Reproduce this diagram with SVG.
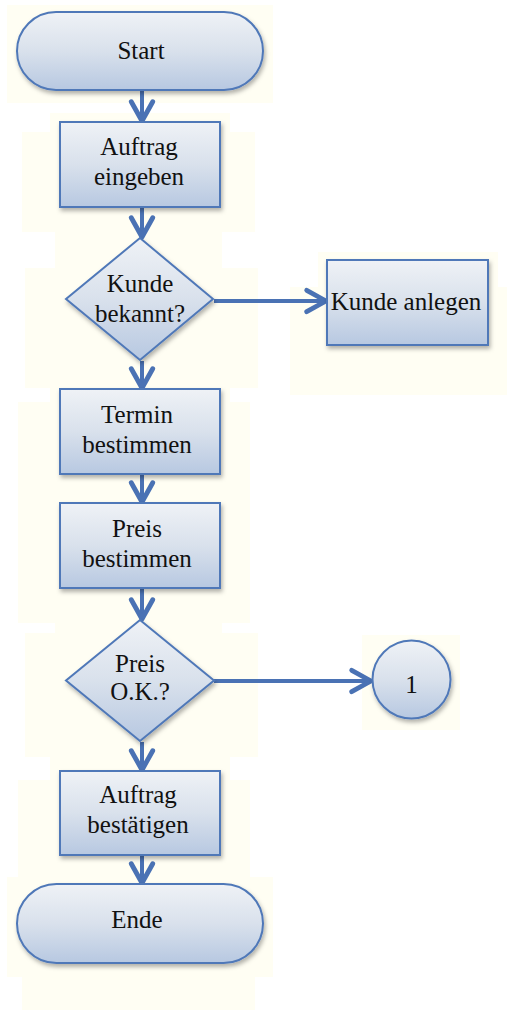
<svg xmlns="http://www.w3.org/2000/svg" width="507" height="1010" viewBox="0 0 507 1010">
  <defs>
    <linearGradient id="fill" x1="0" y1="0" x2="0" y2="1">
      <stop offset="0" stop-color="#eff2f6"/>
      <stop offset="0.5" stop-color="#d9e1ec"/>
      <stop offset="1" stop-color="#b7c8e1"/>
    </linearGradient>
    <filter id="shadow" x="-20%" y="-20%" width="150%" height="150%">
      <feDropShadow dx="1.5" dy="3" stdDeviation="2" flood-color="#000" flood-opacity="0.3"/>
    </filter>
    <marker id="chev" markerUnits="userSpaceOnUse" markerWidth="30" markerHeight="30" viewBox="-22 -14 26 28" refX="0" refY="0" orient="auto">
      <path d="M-18,-10 L0,0 L-18,10" fill="none" stroke="#4a72b4" stroke-width="4.5" stroke-linecap="round" stroke-linejoin="round"/>
    </marker>
  </defs>
  <style>
    .shape { fill: url(#fill); stroke: #4f78b8; stroke-width: 2; filter: url(#shadow); }
    .lbl { font-family: "Liberation Serif", "Times New Roman", serif; font-size: 25px; fill: #111; text-anchor: middle; }
    .conn { fill: none; stroke: #4a72b4; stroke-width: 4; marker-end: url(#chev); }
    .paper { fill: #fffef3; }
  </style>

  <rect width="507" height="1010" fill="#ffffff"/>

  <!-- light paper patches behind the shapes -->
  <g id="paper">
    <rect class="paper" x="7" y="5" width="266" height="98"/>
    <rect class="paper" x="50" y="113" width="180" height="20"/>
    <rect class="paper" x="22" y="132" width="233" height="100"/>
    <rect class="paper" x="55" y="232" width="167" height="36"/>
    <rect class="paper" x="25" y="268" width="233" height="120"/>
    <rect class="paper" x="50" y="388" width="180" height="14"/>
    <rect class="paper" x="18" y="402" width="232" height="221"/>
    <rect class="paper" x="55" y="623" width="167" height="10"/>
    <rect class="paper" x="25" y="633" width="233" height="124"/>
    <rect class="paper" x="50" y="757" width="180" height="23"/>
    <rect class="paper" x="18" y="780" width="232" height="97"/>
    <rect class="paper" x="7" y="877" width="266" height="100"/>
    <rect class="paper" x="22" y="977" width="233" height="33"/>
    <rect class="paper" x="318" y="252" width="180" height="36"/>
    <rect class="paper" x="290" y="287" width="217" height="108"/>
    <rect class="paper" x="362" y="635" width="98" height="95"/>
  </g>

  <g id="connectors">
    <line class="conn" x1="142" y1="91" x2="142" y2="121"/>
    <line class="conn" x1="142" y1="208" x2="142" y2="237"/>
    <line class="conn" x1="214" y1="301" x2="326" y2="301"/>
    <line class="conn" x1="142" y1="361" x2="142" y2="388"/>
    <line class="conn" x1="142" y1="475" x2="142" y2="502"/>
    <line class="conn" x1="142" y1="589" x2="142" y2="619"/>
    <line class="conn" x1="214" y1="681" x2="371" y2="681"/>
    <line class="conn" x1="142" y1="742" x2="142" y2="770"/>
    <line class="conn" x1="142" y1="856" x2="142" y2="883"/>
  </g>

  <g id="start">
    <rect class="shape" x="17" y="12" width="246" height="78" rx="39" ry="39"/>
    <text class="lbl" x="141" y="59">Start</text>
  </g>

  <g id="auftrag-eingeben">
    <rect class="shape" x="60" y="122" width="160" height="85"/>
    <text class="lbl" x="139" y="155">Auftrag</text>
    <text class="lbl" x="139" y="185">eingeben</text>
  </g>

  <g id="kunde-bekannt">
    <polygon class="shape" points="140,238 213,299 140,360 66,299"/>
    <text class="lbl" x="140" y="292">Kunde</text>
    <text class="lbl" x="140" y="322">bekannt?</text>
  </g>

  <g id="kunde-anlegen">
    <rect class="shape" x="327" y="260" width="161" height="85"/>
    <text class="lbl" x="406" y="310">Kunde anlegen</text>
  </g>

  <g id="termin-bestimmen">
    <rect class="shape" x="60" y="389" width="160" height="85"/>
    <text class="lbl" x="137" y="423">Termin</text>
    <text class="lbl" x="137" y="453">bestimmen</text>
  </g>

  <g id="preis-bestimmen">
    <rect class="shape" x="60" y="503" width="160" height="85"/>
    <text class="lbl" x="137" y="537">Preis</text>
    <text class="lbl" x="137" y="567">bestimmen</text>
  </g>

  <g id="preis-ok">
    <polygon class="shape" points="140,620 214,680.5 140,741 66,680.5"/>
    <text class="lbl" x="140" y="672">Preis</text>
    <text class="lbl" x="140" y="700">O.K.?</text>
  </g>

  <g id="connector-1">
    <circle class="shape" cx="411.5" cy="679.5" r="39"/>
    <text class="lbl" x="411.5" y="693">1</text>
  </g>

  <g id="auftrag-bestaetigen">
    <rect class="shape" x="60" y="771" width="160" height="84"/>
    <text class="lbl" x="138" y="803">Auftrag</text>
    <text class="lbl" x="138" y="833">bestätigen</text>
  </g>

  <g id="ende">
    <rect class="shape" x="17" y="884" width="246" height="79" rx="39.5" ry="39.5"/>
    <text class="lbl" x="137" y="928">Ende</text>
  </g>
</svg>
